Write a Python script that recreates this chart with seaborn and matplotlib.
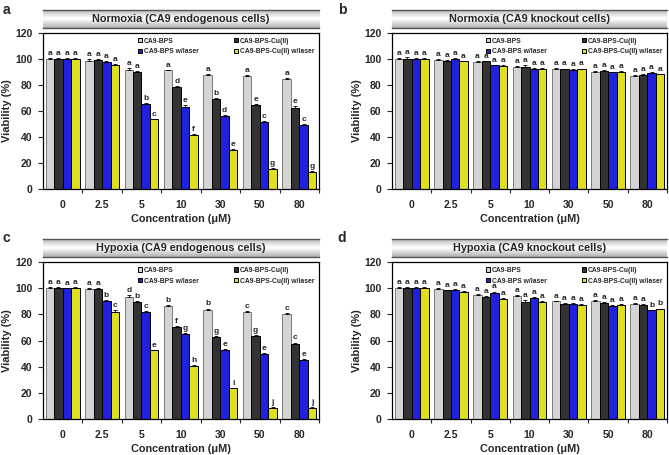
import numpy as np
import pandas as pd
import seaborn as sns
import matplotlib.pyplot as plt
from matplotlib.container import BarContainer

conc = ['0', '2.5', '5', '10', '30', '50', '80']
series = ['CA9-BPS', 'CA9-BPS-Cu(II)', 'CA9-BPS w/laser', 'CA9-BPS-Cu(II) w/laser']
colors = ['#d4d4d4', '#333333', '#0000ff', '#ffff00']

titles = ['Normoxia (CA9 endogenous cells)', 'Normoxia (CA9 knockout cells)',
          'Hypoxia (CA9 endogenous cells)', 'Hypoxia (CA9 knockout cells)']
panel_tags = ['a', 'b', 'c', 'd']

# rows = series, columns = concentrations
norm_endo = [[100, 98.5, 91.5, 91, 87.5, 86.5, 84.5],
             [100, 99, 90, 78, 69, 64.5, 62.5],
             [100, 97.5, 65.5, 63, 56, 51, 49],
             [100, 95, 53.5, 41.5, 30, 15.5, 13]]
norm_endo_err = [[0.8, 1.2, 1.5, 0.5, 0.5, 0.8, 0.8],
                 [0.8, 0.5, 0.5, 0.8, 0.8, 0.8, 1.5],
                 [0.8, 0.8, 0.8, 1.2, 0.8, 1.2, 1.0],
                 [0.8, 1.0, 0.5, 0.5, 0.5, 0.8, 0.5]]
norm_endo_let = [list('aaaaaaa'), list('aaadbee'), list('aabedcc'), list('aacfegg')]

norm_ko = [[100, 99, 97.5, 94, 92.5, 90, 87],
           [100, 98.5, 98, 94, 92, 90.5, 87.5],
           [100, 99.5, 95, 92.5, 91, 89.5, 89],
           [100, 98, 94.5, 92.5, 92, 90, 88]]
norm_ko_err = [[0.8, 0.5, 0.5, 0.5, 0.5, 0.5, 0.5],
               [1.0, 0.5, 0.5, 1.0, 0.5, 0.5, 0.5],
               [0.8, 0.8, 0.5, 0.5, 0.8, 0.5, 0.8],
               [0.5, 0.5, 0.5, 0.5, 0.5, 0.8, 0.5]]
norm_ko_let = [list('aaaaaaa'), list('aaaaaaa'), list('aaaaaaa'), list('aaaaaaa')]

hyp_endo = [[100, 99.5, 93.5, 86.5, 83.5, 81.5, 80.5],
            [100, 99.5, 89.5, 70.5, 63, 63.5, 57.5],
            [100, 90, 81.5, 65, 53, 49.5, 45],
            [100, 82, 52.5, 40.5, 23.5, 8.5, 8.5]]
hyp_endo_err = [[0.8, 0.8, 1.5, 1.0, 1.0, 0.8, 0.8],
                [0.8, 0.8, 0.5, 0.8, 0.5, 0.8, 1.0],
                [0.5, 0.8, 0.8, 1.0, 0.5, 1.0, 1.2],
                [0.8, 1.0, 0.5, 0.5, 0.5, 0.5, 0.5]]
hyp_endo_let = [list('aadbbcc'), list('aabfggc'), list('abcgeee'), list('acehijj')]

hyp_ko = [[100, 99.5, 94.5, 94, 90, 90.5, 88],
          [100, 98.5, 93.5, 89.5, 88, 89, 87.5],
          [100, 98.5, 96, 92.5, 88, 86.5, 83],
          [100, 97, 92, 89.5, 87.5, 87, 84]]
hyp_ko_err = [[0.8, 0.5, 0.8, 0.5, 0.5, 0.8, 0.5],
              [0.8, 0.5, 0.5, 1.5, 0.5, 0.8, 0.5],
              [1.2, 0.8, 1.5, 0.5, 1.0, 1.0, 0.5],
              [1.2, 0.8, 0.8, 0.5, 0.8, 0.8, 0.5]]
hyp_ko_let = [list('aaaaaaa'), list('aaaaaaa'), list('aaaaaab'), list('aaaaaab')]

panels = [(norm_endo, norm_endo_err, norm_endo_let),
          (norm_ko, norm_ko_err, norm_ko_let),
          (hyp_endo, hyp_endo_err, hyp_endo_let),
          (hyp_ko, hyp_ko_err, hyp_ko_let)]

sns.set_style('ticks')
plt.rcParams['font.family'] = ['Liberation Sans', 'DejaVu Sans']
plt.rcParams['font.weight'] = 'bold'

fig = plt.figure(figsize=(6.69, 4.55), dpi=100)

# axes boxes (left, bottom, width, height) in figure fractions
ax_rects = [(0.064, 0.585, 0.413, 0.343), (0.586, 0.585, 0.411, 0.343),
            (0.064, 0.079, 0.413, 0.345), (0.586, 0.079, 0.411, 0.345)]
head_bottoms = [0.9385, 0.9385, 0.435, 0.435]
tag_pos = [(0.004, 0.978), (0.505, 0.978), (0.004, 0.478), (0.505, 0.478)]

grad = np.concatenate([np.linspace(0.70, 1.0, 10), np.linspace(1.0, 0.70, 10)])[:, None]

for k, (vals, errs, lets) in enumerate(panels):
    rows = []
    for s, name in enumerate(series):
        for c, cc in enumerate(conc):
            rows.append({'conc': cc, 'series': name, 'viab': vals[s][c]})
    df = pd.DataFrame(rows)

    ax = fig.add_axes(ax_rects[k])
    sns.barplot(data=df, x='conc', y='viab', hue='series', order=conc, hue_order=series,
                palette=colors, edgecolor='black', linewidth=0.7, width=0.86, gap=0,
                errorbar=None, legend=True, ax=ax)

    bar_sets = [c for c in ax.containers if isinstance(c, BarContainer)]
    for s, cont in enumerate(bar_sets):
        if s == 0:
            for p in cont:
                p.set_edgecolor('#7a7a7a')
        xs = [p.get_x() + p.get_width() / 2 for p in cont]
        hs = [p.get_height() for p in cont]
        ax.errorbar(xs, hs, yerr=[np.zeros(len(hs)), errs[s]], fmt='none', ecolor='black',
                    elinewidth=0.6, capsize=1.4, capthick=0.6)
        for x, h, e, l in zip(xs, hs, errs[s], lets[s]):
            ax.text(x, h + e + 0.8, l, ha='center', va='bottom', fontsize=6, fontweight='bold')

    ax.set_ylim(0, 120)
    ax.set_xlim(-0.5, len(conc) - 0.5)
    ax.set_yticks(range(0, 121, 20))
    ax.set_xticks(np.arange(len(conc)) + 0.5, minor=True)
    ax.tick_params(axis='x', which='major', length=0, pad=8, labelsize=7.5)
    ax.tick_params(axis='x', which='minor', length=3, width=0.8, direction='out')
    ax.tick_params(axis='y', length=3.5, width=0.8, labelsize=7.5, pad=4)
    for lab in ax.get_xticklabels() + ax.get_yticklabels():
        lab.set_fontweight('bold')
    for sp in ax.spines.values():
        sp.set_linewidth(0.9)
        sp.set_color('black')
    ax.set_xlabel('Concentration (μM)', fontsize=7.8, fontweight='bold', labelpad=3)
    ax.set_ylabel('Viability (%)', fontsize=8, fontweight='bold', labelpad=2)

    h, l = ax.get_legend_handles_labels()
    order = [0, 2, 1, 3]
    ax.legend([h[i] for i in order], [l[i] for i in order], ncol=2, loc='upper right',
              frameon=False, handlelength=0.6, handleheight=0.6,
              handletextpad=0.25, columnspacing=5.2, labelspacing=0.55,
              borderaxespad=0.3, prop={'weight': 'bold', 'size': 4.9})

    # header strip with gray gradient
    left, _, width, _ = ax_rects[k]
    hax = fig.add_axes((left, head_bottoms[k], width, 0.0396))
    hax.imshow(grad, cmap='gray', vmin=0, vmax=1, aspect='auto', extent=(0, 1, 0, 1))
    hax.set_xticks([])
    hax.set_yticks([])
    for side in ['left', 'right']:
        hax.spines[side].set_visible(False)
    for side in ['top', 'bottom']:
        hax.spines[side].set_linewidth(1.0)
        hax.spines[side].set_color('#555555')
    hax.text(0.5, 0.5, titles[k], ha='center', va='center', fontsize=7.8,
             fontweight='bold', transform=hax.transAxes)

    fig.text(tag_pos[k][0], tag_pos[k][1], panel_tags[k], fontsize=10, fontweight='bold',
             ha='left', va='center')

fig.savefig('out.png', dpi=100)
